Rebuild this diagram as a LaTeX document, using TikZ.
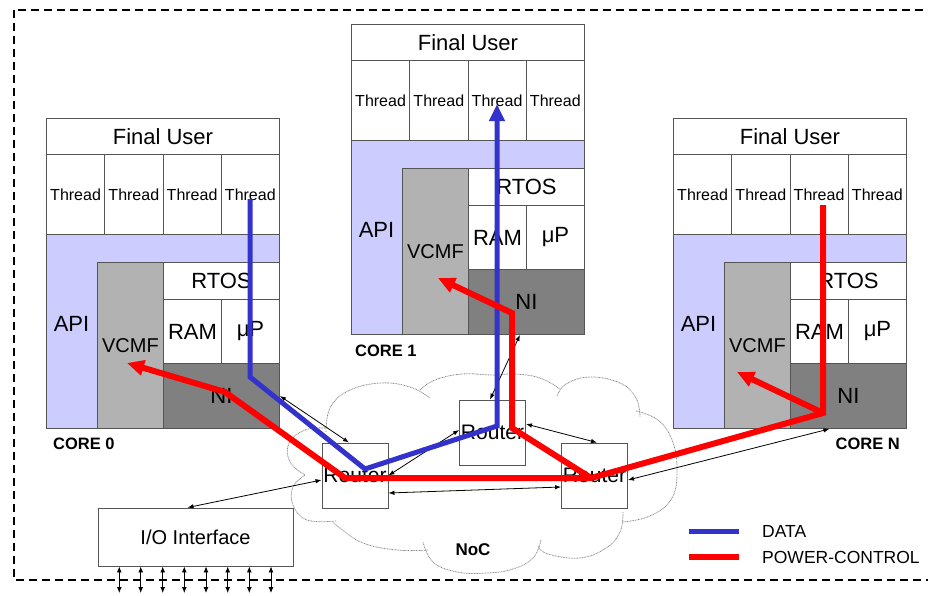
\documentclass[tikz,border=0pt]{standalone}
\usepackage{fontspec}
\setmainfont{Liberation Sans}
\usetikzlibrary{arrows.meta,calc}

\definecolor{apifill}{RGB}{204,204,255}
\definecolor{vcmffill}{RGB}{178,178,178}
\definecolor{nifill}{RGB}{128,128,128}
\definecolor{datablue}{RGB}{51,51,204}
\definecolor{pcred}{RGB}{255,0,0}
\definecolor{cellline}{RGB}{85,85,85}

\newcommand\fsBig{\fontsize{22}{24}\selectfont}
\newcommand\fsThread{\fontsize{16}{18}\selectfont}
\newcommand\fsVcmf{\fontsize{20}{22}\selectfont}
\newcommand\fsCore{\fontsize{16.5}{18}\selectfont\bfseries}
\newcommand\fsRouter{\fontsize{21}{23}\selectfont}
\newcommand\fsLegend{\fontsize{17.5}{19}\selectfont}

\tikzset{
  cell/.style={draw=cellline, line width=0.9pt, inner sep=0pt, anchor=north west},
  corebox/.style={draw=cellline, line width=1pt},
  router/.style={draw=cellline, line width=0.9pt, fill=white, inner sep=0pt,
    minimum width=66pt, minimum height=65pt, font=\fsRouter},
  label/.style={inner sep=0pt},
  biarrow/.style={black, line width=0.8pt,
    {Latex[length=6pt,width=4.5pt]}-{Latex[length=6pt,width=4.5pt]}},
  cloudline/.style={draw=black!45, line width=0.8pt, dash pattern=on 0.9pt off 0.7pt},
  dataline/.style={datablue, line width=5pt},
  pcline/.style={pcred, line width=6pt},
  bighead/.style={-{Triangle[length=17pt,width=15pt]}},
  outerframe/.style={black, line width=1.4pt, dash pattern=on 8pt off 5pt},
}

% One processing core: user row, four threads, API / VCMF / RTOS / RAM / uP / NI
\newcommand\corestack[3]{%
  \begin{scope}[shift={(#2,#3)}]
    \fill[apifill] (0,116) rectangle (233,310);
    \node[cell, fill=white, minimum width=233pt, minimum height=36pt, font=\fsBig] (#1fu) at (0,0) {Final User};
    \foreach \i in {1,...,4}
      \node[cell, fill=white, minimum width=58.25pt, minimum height=80pt, font=\fsThread]
        (#1t\i) at ({58.25*(\i-1)},36) {Thread};
    \node[cell, fill=vcmffill, minimum width=66pt, minimum height=166pt, font=\fsVcmf] (#1vcmf) at (51,144) {VCMF};
    \node[cell, fill=white, minimum width=116pt, minimum height=37pt, font=\fsBig] (#1rtos) at (117,144) {RTOS};
    \node[cell, fill=white, minimum width=58pt, minimum height=64pt, font=\fsBig] (#1ram) at (117,181) {RAM};
    \node[cell, fill=white, minimum width=58pt, minimum height=64pt, font=\fsBig] (#1up) at (175,181) {μP};
    \node[cell, fill=nifill, minimum width=116pt, minimum height=65pt, font=\fsBig] (#1ni) at (117,245) {NI};
    \node[label, font=\fsBig] (#1api) at (25.5,206) {API};
    \draw[corebox] (0,0) rectangle (233,310);
  \end{scope}}

\begin{document}
\begin{tikzpicture}[x=1pt, y=-1pt]
\useasboundingbox (0,0) rectangle (928,595);
\clip (0,0) rectangle (928,595);

% system boundary
\draw[outerframe] (14,10) rectangle (945,580);

% NoC cloud, drawn as a chain of bumps
\draw[cloudline] plot[smooth, tension=0.7] coordinates {(305,475) (290,462) (289,443) (305,430) (326,428)};
\draw[cloudline] plot[smooth, tension=0.7] coordinates {(326,432) (330,408) (348,391) (380,383) (410,387) (430,398)};
\draw[cloudline] plot[smooth, tension=0.7] coordinates {(420,390) (435,380) (462,374) (493,375) (515,374) (540,378) (560,389)};
\draw[cloudline] plot[smooth, tension=0.7] coordinates {(557,396) (566,384) (590,377) (620,383) (636,398) (640,417)};
\draw[cloudline] plot[smooth, tension=0.7] coordinates {(636,411) (658,420) (672,440) (677,468) (672,498) (650,516) (622,522)};
\draw[cloudline] plot[smooth, tension=0.7] coordinates {(623,512) (620,532) (606,548) (580,558) (548,554) (538,546)};
\draw[cloudline] plot[smooth, tension=0.7] coordinates {(541,540) (533,558) (513,569) (487,573) (457,572) (433,562) (423,542)};
\draw[cloudline] plot[smooth, tension=0.7] coordinates {(428,550) (397,550) (363,543) (340,528) (333,522)};
\draw[cloudline] plot[smooth, tension=0.7] coordinates {(336,521) (307,520) (293,505) (293,487) (305,475)};
\node[label, font=\fontsize{17}{19}\selectfont\bfseries] (noc) at (473,550) {NoC};

% cores
\corestack{c0}{46}{118}
\corestack{c1}{351}{24}
\corestack{cn}{673}{118}
\node[label, font=\fsCore, anchor=west] (c0lab) at (53,444) {CORE 0};
\node[label, font=\fsCore, anchor=west] (c1lab) at (355,351) {CORE 1};
\node[label, font=\fsCore, anchor=east] (cnlab) at (900,444) {CORE N};

% routers and I/O
\node[router] (r0) at (355,475.5) {Router};
\node[router] (r1) at (492.5,432.5) {Router};
\node[router] (rn) at (594.5,475.5) {Router};
\node[router, minimum width=195pt, minimum height=58pt, font=\fsVcmf] (io) at (195.5,537) {I/O Interface};

% links
\draw[biarrow] (c0ni.east) -- ([xshift=-6pt]r0.north);
\draw[biarrow] ([yshift=-4.5pt]r0.west) -- ([xshift=-8pt]io.north);
\draw[biarrow] (r0.east) -- ([yshift=2.5pt]r1.west);
\draw[biarrow] ([yshift=-17.5pt]r0.east) -- ([yshift=-11.5pt]rn.west);
\draw[biarrow] ([xshift=-2.5pt]r1.north) -- ([xshift=-6.5pt]c1ni.south);
\draw[biarrow] ([yshift=8.5pt]r1.east) -- ([xshift=2.5pt]rn.north);
\draw[biarrow] ([yshift=-4.5pt]rn.east) -- ([xshift=-19pt]cnni.south);

% I/O pins
\foreach \k/\px in {1/119.3,2/140.7,3/162.7,4/184.3,5/206,6/227.7,7/249.3,8/271}{
  \coordinate (pin\k) at (\px,593);
  \draw[black, line width=0.9pt, {Latex[length=6pt,width=5pt]}-{Latex[length=6pt,width=5pt]}]
    (pin\k |- io.south) -- (pin\k);
}

% data path
\coordinate (d0) at (250,199);
\coordinate (d1) at (250,377);
\coordinate (d2) at (365,469);
\coordinate (d3) at (497,426);
\coordinate (d4) at (497,104);
\draw[dataline, -{Triangle[length=17pt,width=15pt]}] (d0) -- (d1) -- (d2) -- (d3) -- (d4);

% power-control paths
\coordinate (p0) at (823,205);
\coordinate (p1) at (823,413);
\coordinate (p2) at (591,478);
\coordinate (p3) at (345,478);
\coordinate (p4) at (225,392);
\coordinate (p5) at (127,363);
\coordinate (pn) at (737,372);
\coordinate (q1) at (512,428);
\coordinate (q2) at (512,313);
\coordinate (q3) at (438,278);
\draw[pcline, bighead] (p0) -- (p1) -- (p2) -- (p3) -- (p4) -- (p5);
\draw[pcline, bighead] (p1) -- (pn);
\draw[pcline, bighead] (p2) -- (q1) -- (q2) -- (q3);

% legend
\node[label, font=\fsLegend, anchor=west] (legdata) at (762,531) {DATA};
\node[label, font=\fsLegend, anchor=west] (legpc) at (762,557) {POWER-CONTROL};
\draw[dataline] ([xshift=-73pt]legdata.west) -- ([xshift=-23pt]legdata.west);
\draw[pcline] ([xshift=-73pt]legpc.west) -- ([xshift=-23pt]legpc.west);
\end{tikzpicture}
\end{document}
